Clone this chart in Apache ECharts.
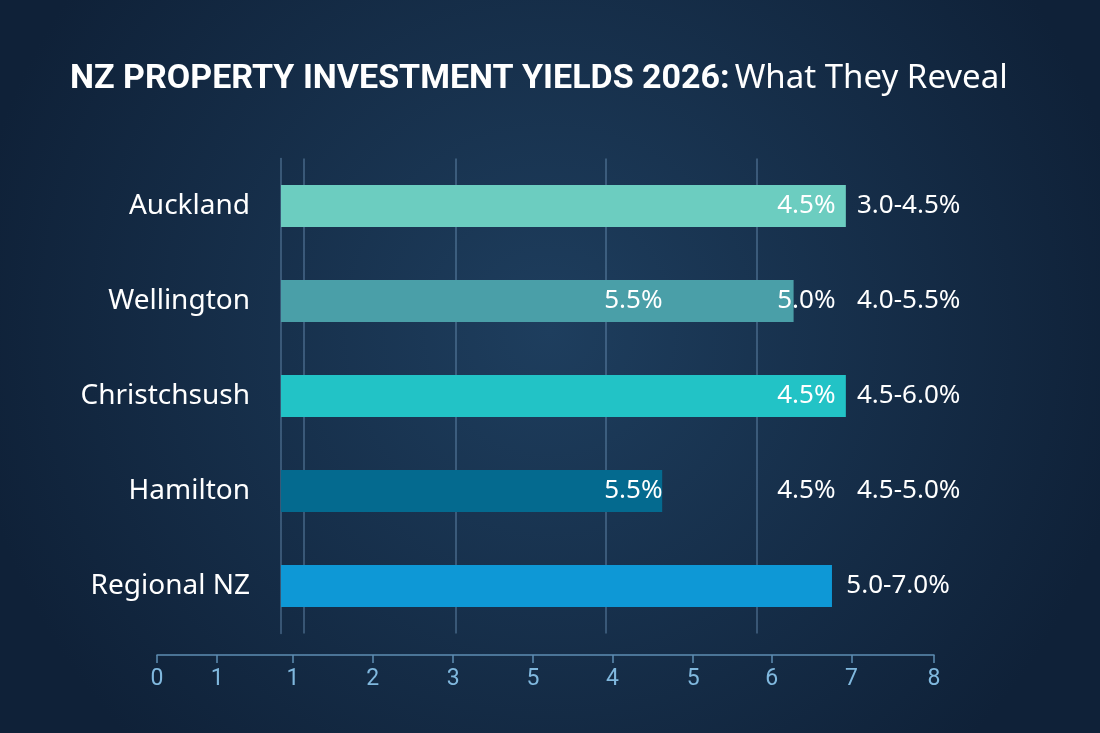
<!DOCTYPE html>
<html>
<head>
<meta charset="utf-8">
<title>NZ Property Investment Yields 2026</title>
<script src="https://cdn.jsdelivr.net/npm/echarts@6/dist/echarts.min.js"></script>
<style>
  html, body { margin: 0; padding: 0; background: #132a45; }
  #chart { width: 1100px; height: 733px; }
</style>
</head>
<body>
<div id="chart"></div>
<script>
// ---- data ----
const cities = ['Auckland', 'Wellington', 'Christchsush', 'Hamilton', 'Regional NZ'];
const barValues = [6.92, 6.28, 6.92, 4.67, 6.75];
const endLabels = ['4.5%', '5.0%', '4.5%', '4.5%', ''];
const midLabels = ['', '5.5%', '', '5.5%', ''];
const rangeLabels = ['3.0-4.5%', '4.0-5.5%', '4.5-6.0%', '4.5-5.0%', '5.0-7.0%'];
const gridValues = [0.28, 2.14, 3.98, 5.83];

const tickValues = [0, 0.62, 1.4, 2.22, 3.05, 3.87, 4.69, 5.52, 6.33, 7.15, 8];
const tickLabels = ['0', '1', '1', '2', '3', '5', '4', '5', '6', '7', '8'];

const COLORS = ['#6ccdc0', '#4a9fa8', '#22c3c6', '#046a8f', '#0e98d6'];

// label columns (in bar-axis units)
const END_COL = 6.8;
const MID_COL = 4.68;
const RANGE_COL = 7.05;

const chart = echarts.init(document.getElementById('chart'));

const textFont = "'Noto Sans', 'Open Sans', sans-serif";
const gridLine = 'rgba(110, 150, 185, 0.55)';

function labelSeries(name, texts, xOf, position) {
  return {
    name: name,
    type: 'scatter',
    xAxisIndex: 0,
    yAxisIndex: 0,
    symbolSize: 1,
    itemStyle: { opacity: 0 },
    silent: true,
    z: 5,
    data: texts.map((t, i) => ({ value: [xOf(i), i], name: t })),
    label: {
      show: true,
      position: position,
      distance: 0,
      opacity: 1,
      formatter: p => p.name,
      color: '#ffffff',
      fontSize: 26,
      fontFamily: textFont
    }
  };
}

// range label sits in its column, or right after the bar when nothing is at the bar end
function rangeX(i) {
  return endLabels[i] ? RANGE_COL : barValues[i] + 0.17;
}

const option = {
  backgroundColor: {
    type: 'radial', x: 0.5, y: 0.45, r: 0.8,
    colorStops: [
      { offset: 0, color: '#1e3e5e' },
      { offset: 1, color: '#0f2138' }
    ]
  },
  title: {
    left: 65,
    top: 57,
    text: '{b|NZ PROPERTY INVESTMENT YIELDS 2026:} {l|What They Reveal}',
    textStyle: {
      rich: {
        b: { fontFamily: 'Roboto', fontWeight: 'bold', fontSize: 34, color: '#ffffff' },
        l: { fontFamily: textFont, fontWeight: 'normal', fontSize: 33, color: '#ffffff' }
      }
    }
  },
  grid: [
    { left: 281, right: 166, top: 158.5, height: 475 },
    { left: 157, right: 166, top: 654, height: 1 }
  ],
  xAxis: [
    {
      type: 'value',
      gridIndex: 0,
      min: 0,
      max: 8,
      axisLine: { show: false },
      axisLabel: { show: false },
      axisTick: { show: false, customValues: gridValues },
      splitLine: { show: true, lineStyle: { color: gridLine, width: 1.5 } }
    },
    {
      type: 'value',
      gridIndex: 1,
      min: 0,
      max: 8,
      position: 'bottom',
      axisLine: { show: true, lineStyle: { color: '#5e8db2', width: 1.5 } },
      axisTick: { show: true, length: 8, customValues: tickValues, lineStyle: { color: '#5e8db2', width: 1.5 } },
      axisLabel: {
        customValues: tickValues,
        margin: 13,
        color: '#80b8de',
        fontSize: 23,
        fontFamily: 'Roboto',
        formatter: (v) => {
          const i = tickValues.findIndex(t => Math.abs(t - v) < 1e-6);
          return i < 0 ? '' : tickLabels[i];
        }
      },
      splitLine: { show: false }
    }
  ],
  yAxis: [
    {
      type: 'category',
      gridIndex: 0,
      data: cities,
      inverse: true,
      axisLine: { show: true, lineStyle: { color: gridLine, width: 1.5 } },
      axisTick: { show: false },
      axisLabel: { margin: 31, color: '#ffffff', fontSize: 28, fontFamily: textFont }
    },
    { type: 'value', gridIndex: 1, show: false, min: 0, max: 1 }
  ],
  series: [
    {
      name: 'Yield',
      type: 'bar',
      xAxisIndex: 0,
      yAxisIndex: 0,
      barWidth: 42,
      z: 3,
      data: barValues.map((v, i) => ({ value: v, itemStyle: { color: COLORS[i] } }))
    },
    labelSeries('end', endLabels, () => END_COL, 'left'),
    labelSeries('mid', midLabels, () => MID_COL, 'left'),
    labelSeries('range', rangeLabels, rangeX, 'right')
  ]
};

chart.setOption(option);
window.addEventListener('resize', () => chart.resize());
</script>
</body>
</html>
